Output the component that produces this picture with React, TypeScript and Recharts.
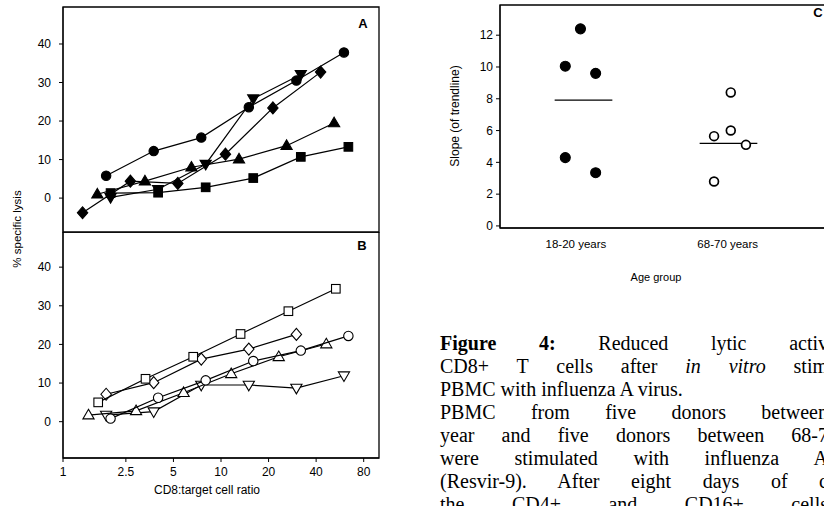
import React from 'react';
import { ScatterChart, Scatter, XAxis, YAxis, ReferenceArea, ReferenceLine } from 'recharts';

// ---------- shared axis values ----------
const ratioTicks = [1, 2.5, 5, 10, 20, 40, 80];
const lysisTicks = [0, 10, 20, 30, 40];
const slopeTicks = [0, 2, 4, 6, 8, 10, 12];
const ageGroups = ['18-20 years', '68-70 years'];

// ---------- Panel A (filled symbols, young donors) ----------
const aCircleX = [1.875, 3.75, 7.5, 15, 30, 60];
const aCircleY = [5.8, 12.2, 15.7, 23.6, 30.5, 37.8];
const aSquareX = [2, 4, 8, 16, 32, 64];
const aSquareY = [1.3, 1.4, 2.8, 5.2, 10.7, 13.3];
const aTriUpX = [1.65, 3.3, 6.5, 13, 26, 52];
const aTriUpY = [1.0, 4.4, 8.0, 10.1, 13.6, 19.5];
const aTriDownX = [2, 4, 8, 16, 32];
const aTriDownY = [0.2, 2.3, 8.8, 25.8, 32.1];
const aDiamondX = [1.33, 2.67, 5.33, 10.67, 21.3, 42.7];
const aDiamondY = [-3.8, 4.4, 3.8, 11.4, 23.4, 32.7];

// ---------- Panel B (open symbols, elderly donors) ----------
const bSquareX = [1.67, 3.33, 6.67, 13.3, 26.7, 53.3];
const bSquareY = [5.0, 11.1, 16.8, 22.7, 28.6, 34.4];
const bDiamondX = [1.875, 3.75, 7.5, 15, 30];
const bDiamondY = [7.1, 10.1, 16.2, 18.8, 22.6];
const bCircleX = [2, 4, 8, 16, 32, 64];
const bCircleY = [0.8, 6.2, 10.7, 15.7, 18.4, 22.2];
const bTriUpX = [1.45, 2.9, 5.8, 11.6, 23.2, 46.4];
const bTriUpY = [1.7, 2.8, 7.5, 12.4, 16.8, 20.1];
const bTriDownX = [1.875, 3.75, 7.5, 15, 30, 60];
const bTriDownY = [1.7, 2.6, 9.5, 9.5, 8.7, 11.9];

// ---------- Panel C (slopes) ----------
const cYoungX = [0.53, 0.43, 0.63, 0.43, 0.63];
const cYoungY = [12.4, 10.05, 9.6, 4.3, 3.35];
const cOldX = [1.52, 1.52, 1.41, 1.62, 1.41];
const cOldY = [8.4, 6.0, 5.65, 5.1, 2.8];
const cGroupCenters = [0.55, 1.505];
const cMeans = [7.92, 5.2];

const zip = (xs: number[], ys: number[]) => xs.map((x, i) => ({ x, y: ys[i] }));

type Kind = 'circle' | 'square' | 'triUp' | 'triDown' | 'diamond';

const makeShape = (kind: Kind, filled: boolean, r = 4.7, sw = 1.1) => (props: any) => {
  const { cx, cy } = props;
  if (cx == null || cy == null) return <g />;
  const c = { fill: filled ? '#000' : '#fff', stroke: '#000', strokeWidth: sw };
  switch (kind) {
    case 'circle':
      return <circle cx={cx} cy={cy} r={r} {...c} />;
    case 'square':
      return <rect x={cx - 4.3} y={cy - 4.3} width={8.6} height={8.6} {...c} />;
    case 'triUp':
      return <polygon points={`${cx},${cy - 5.8} ${cx + 5.6},${cy + 3.8} ${cx - 5.6},${cy + 3.8}`} {...c} />;
    case 'triDown':
      return <polygon points={`${cx},${cy + 5.8} ${cx + 5.6},${cy - 3.8} ${cx - 5.6},${cy - 3.8}`} {...c} />;
    default:
      return <polygon points={`${cx},${cy - 6} ${cx + 5.2},${cy} ${cx},${cy + 6} ${cx - 5.2},${cy}`} {...c} />;
  }
};

const FONT = 'Arial, "Liberation Sans", sans-serif';
const tickStyle = { fontSize: 12, fill: '#000', fontFamily: FONT };
const lineStyle = { stroke: '#000', strokeWidth: 1.2 };
const black = { stroke: '#000' };

const seriesA: [number[], number[], Kind][] = [
  [aSquareX, aSquareY, 'square'],
  [aTriUpX, aTriUpY, 'triUp'],
  [aDiamondX, aDiamondY, 'diamond'],
  [aTriDownX, aTriDownY, 'triDown'],
  [aCircleX, aCircleY, 'circle'],
];
const seriesB: [number[], number[], Kind][] = [
  [bTriDownX, bTriDownY, 'triDown'],
  [bTriUpX, bTriUpY, 'triUp'],
  [bCircleX, bCircleY, 'circle'],
  [bDiamondX, bDiamondY, 'diamond'],
  [bSquareX, bSquareY, 'square'],
];

const A_DOMAIN: [number, number] = [-8.8, 49.6];
const B_DOMAIN: [number, number] = [-9.4, 49.1];
const C_DOMAIN: [number, number] = [-0.13, 13.9];
const C_XDOMAIN: [number, number] = [0, 2.2];

function PanelA() {
  return (
    <ScatterChart width={390} height={240} margin={{ top: 7, right: 11, bottom: 8, left: 3 }}>
      <XAxis dataKey="x" type="number" scale="log" domain={[1, 100]} allowDataOverflow hide />
      <YAxis
        dataKey="y"
        type="number"
        domain={A_DOMAIN}
        ticks={lysisTicks}
        allowDataOverflow
        width={60}
        tickSize={4}
        tickMargin={8}
        tick={tickStyle}
        tickLine={black}
        axisLine={black}
      />
      <ReferenceArea x1={1} x2={100} y1={A_DOMAIN[0]} y2={A_DOMAIN[1]} fill="none" stroke="#000" strokeWidth={1.3} fillOpacity={0} />
      {seriesA.map(([xs, ys, k], i) => (
        <Scatter key={i} data={zip(xs, ys)} line={lineStyle} shape={makeShape(k, true)} isAnimationActive={false} />
      ))}
    </ScatterChart>
  );
}

function PanelB() {
  return (
    <ScatterChart width={390} height={274} margin={{ top: 0, right: 11, bottom: 0, left: 3 }}>
      <XAxis
        dataKey="x"
        type="number"
        scale="log"
        domain={[1, 100]}
        ticks={ratioTicks}
        allowDataOverflow
        height={48}
        tickSize={4}
        tickMargin={5}
        tick={tickStyle}
        tickLine={black}
        axisLine={black}
        tickFormatter={(v: number) => String(v)}
      />
      <YAxis
        dataKey="y"
        type="number"
        domain={B_DOMAIN}
        ticks={lysisTicks}
        allowDataOverflow
        width={60}
        tickSize={4}
        tickMargin={8}
        tick={tickStyle}
        tickLine={black}
        axisLine={black}
      />
      <ReferenceArea x1={1} x2={100} y1={B_DOMAIN[0]} y2={B_DOMAIN[1]} fill="none" stroke="#000" strokeWidth={1.3} fillOpacity={0} />
      {seriesB.map(([xs, ys, k], i) => (
        <Scatter key={i} data={zip(xs, ys)} line={lineStyle} shape={makeShape(k, false)} isAnimationActive={false} />
      ))}
    </ScatterChart>
  );
}

function PanelC() {
  return (
    <ScatterChart width={440} height={300} margin={{ top: 5, right: 6, bottom: 0, left: 0 }}>
      <XAxis
        dataKey="x"
        type="number"
        domain={C_XDOMAIN}
        ticks={[0.5, 1.5]}
        allowDataOverflow
        height={72}
        tickSize={0}
        tickLine={false}
        tickMargin={12}
        tick={{ ...tickStyle, fontSize: 11.5 }}
        axisLine={black}
        tickFormatter={(v: number) => ageGroups[v < 1 ? 0 : 1]}
      />
      <YAxis
        dataKey="y"
        type="number"
        domain={C_DOMAIN}
        ticks={slopeTicks}
        allowDataOverflow
        width={100}
        tickSize={4}
        tickMargin={3}
        tick={tickStyle}
        tickLine={black}
        axisLine={black}
      />
      <ReferenceArea x1={C_XDOMAIN[0]} x2={C_XDOMAIN[1]} y1={C_DOMAIN[0]} y2={C_DOMAIN[1]} fill="none" stroke="#000" strokeWidth={1.3} fillOpacity={0} />
      {cGroupCenters.map((g, i) => (
        <ReferenceLine
          key={i}
          segment={[{ x: g - 0.19, y: cMeans[i] }, { x: g + 0.19, y: cMeans[i] }]}
          stroke="#000"
          strokeWidth={1.3}
        />
      ))}
      <Scatter data={zip(cYoungX, cYoungY)} shape={makeShape('circle', true, 5)} isAnimationActive={false} />
      <Scatter data={zip(cOldX, cOldY)} shape={makeShape('circle', false, 4.4, 1.7)} isAnimationActive={false} />
    </ScatterChart>
  );
}

const captionLines: { parts: React.ReactNode; justify: boolean }[] = [
  { parts: <><b>Figure 4:</b> Reduced lytic activ</>, justify: true },
  { parts: <>CD8+ T cells after <i>in vitro</i> stim</>, justify: true },
  { parts: <>PBMC with influenza A virus.</>, justify: false },
  { parts: <>PBMC from five donors between</>, justify: true },
  { parts: <>year and five donors between 68-7</>, justify: true },
  { parts: <>were stimulated with influenza A</>, justify: true },
  { parts: <>(Resvir-9). After eight days of c</>, justify: true },
  { parts: <>the CD4+ and CD16+ cells</>, justify: true },
];

export default function App() {
  return (
    <div
      style={{
        position: 'absolute',
        left: 0,
        top: 0,
        width: 824,
        height: 506,
        overflow: 'hidden',
        background: '#fff',
        fontFamily: FONT,
      }}
    >
      <div style={{ position: 'absolute', left: 0, top: 0 }}>
        <PanelA />
      </div>
      <div style={{ position: 'absolute', left: 0, top: 232 }}>
        <PanelB />
      </div>
      <div style={{ position: 'absolute', left: 400, top: 0 }}>
        <PanelC />
      </div>
      <svg width={824} height={506} style={{ position: 'absolute', left: 0, top: 0, pointerEvents: 'none' }}>
        <text x={0} y={0} transform="translate(21,229) rotate(-90)" textAnchor="middle" fontSize={11.5} fontFamily={FONT}>
          % specific lysis
        </text>
        <text x={207} y={494} textAnchor="middle" fontSize={12} fontFamily={FONT}>
          CD8:target cell ratio
        </text>
        <text x={363} y={27.5} textAnchor="middle" fontSize={13} fontWeight="bold" fontFamily={FONT}>
          A
        </text>
        <text x={362} y={249.5} textAnchor="middle" fontSize={13} fontWeight="bold" fontFamily={FONT}>
          B
        </text>
        <text x={818} y={17} textAnchor="middle" fontSize={13} fontWeight="bold" fontFamily={FONT}>
          C
        </text>
        <text x={0} y={0} transform="translate(459,116) rotate(-90)" textAnchor="middle" fontSize={12} fontFamily={FONT}>
          Slope (of trendline)
        </text>
        <text x={656} y={281} textAnchor="middle" fontSize={11} fontFamily={FONT}>
          Age group
        </text>
      </svg>
      <div
        style={{
          position: 'absolute',
          left: 440,
          top: 332,
          fontFamily: '"Liberation Serif", "Times New Roman", serif',
          fontSize: 20,
          lineHeight: '23px',
          color: '#000',
        }}
      >
        {captionLines.map((l, i) => (
          <div
            key={i}
            style={{
              width: 388,
              whiteSpace: 'nowrap',
              textAlign: l.justify ? 'justify' : 'left',
              textAlignLast: l.justify ? 'justify' : 'left',
              height: 23,
            }}
          >
            {l.parts}
          </div>
        ))}
      </div>
    </div>
  );
}
